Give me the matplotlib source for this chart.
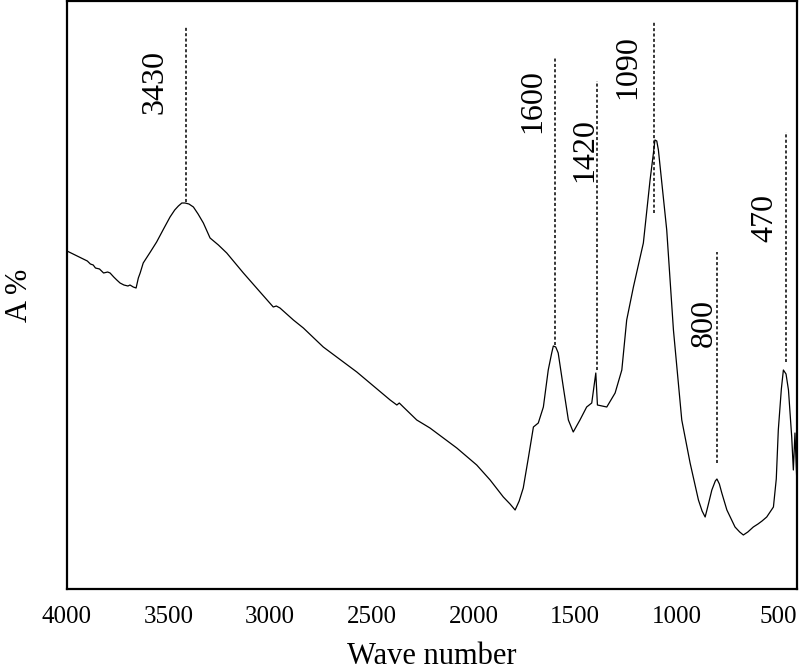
import matplotlib
matplotlib.use("Agg")
import matplotlib.pyplot as plt

plt.rcParams['font.family'] = ['Liberation Serif', 'DejaVu Serif']

# Spectrum (wave number, absorbance in arbitrary units)
wavenumber = [4000, 3960, 3930, 3900, 3885, 3871, 3860, 3840, 3820, 3800, 3788,
              3770, 3755, 3739, 3720, 3700, 3690, 3674, 3660, 3649, 3640, 3625,
              3590, 3559, 3525, 3493, 3470, 3452, 3435, 3419, 3400, 3378, 3355,
              3329, 3296, 3255, 3214, 3132, 3050, 2985,
              2970, 2952, 2886, 2837, 2739, 2574, 2410, 2377, 2365, 2345, 2279,
              2214, 2082, 1984, 1918, 1853, 1820, 1795, 1775, 1755, 1730, 1705,
              1681, 1656, 1632, 1615, 1607, 1595, 1583, 1558, 1533, 1509, 1476,
              1443, 1418, 1398, 1390, 1344, 1303, 1270, 1246, 1213, 1164, 1131,
              1115, 1107, 1098, 1090, 1070, 1049, 1016, 975, 934, 893, 875, 860,
              845, 827, 810, 802, 790, 778, 753, 713, 690, 672, 650, 623,
              600, 580, 557, 524, 510, 500, 485, 475, 462, 450, 434, 426, 418, 409]
absorbance = [338, 334, 331, 328, 325, 324, 321, 320, 316, 317, 316,
              312, 309, 306, 304, 303, 304, 302, 301, 311, 316, 326,
              337, 347, 360, 372, 379, 383, 386, 386, 385, 382, 375,
              366, 351, 344, 336, 316, 297, 282,
              283, 281, 269, 261, 242, 217, 189, 184, 186, 182, 169,
              161, 141, 124, 109, 92, 85, 79, 88, 101, 131, 162,
              166, 182, 219, 236, 243, 242, 236, 202, 169, 157, 169,
              182, 186, 216, 184, 182, 196, 219, 269, 302, 346, 409,
              435, 449, 448, 439, 400, 359, 259, 169, 126, 89, 78, 72,
              84, 99, 108, 110, 105, 96, 79, 62, 57, 54, 57, 62,
              65, 68, 72, 82, 110, 159, 200, 219, 215, 199, 152, 119, 156, 109]

# Peak annotations: label text, marker position, dotted line span, label place
peak_labels = ['3430', '1600', '1420', '1090', '800', '470']
peak_x = [3416, 1598, 1392, 1111, 801, 462]
peak_line_top = [562, 531, 508, 567, 337, 457]
peak_line_bottom = [387, 244, 219, 376, 126, 227]
label_x = [3567, 1707, 1451, 1239, 866, 565]
label_y = [507, 488, 439, 522, 266, 371]

xticks = [4000, 3500, 3000, 2500, 2000, 1500, 1000, 500]

fig = plt.figure(figsize=(8, 6.7), dpi=100)
ax = fig.add_axes([0.08375, 0.1209, 0.9125, 0.8776])

ax.plot(wavenumber, absorbance, color='black', linewidth=0.9)

for lab, px, top, bot, lx, ly in zip(peak_labels, peak_x, peak_line_top,
                                      peak_line_bottom, label_x, label_y):
    ax.plot([px, px], [bot, top], color='black', linestyle=(0, (2, 1.5)),
            linewidth=1.1)
    ax.text(lx, ly, lab, rotation=90, ha='center', va='center', fontsize=23)

ax.set_xlim(4000, 408)
ax.set_ylim(0, 588)
ax.set_xticks(xticks)
ax.set_xticklabels([str(t) for t in xticks], fontsize=18)
ax.set_yticks([])
ax.tick_params(axis='x', length=0, pad=12)
for s in ax.spines.values():
    s.set_linewidth(1.6)

ax.set_xlabel('Wave number', fontsize=22, labelpad=10)
ax.set_ylabel('A %', fontsize=22, labelpad=24)

fig.savefig('out.png', dpi=100)
